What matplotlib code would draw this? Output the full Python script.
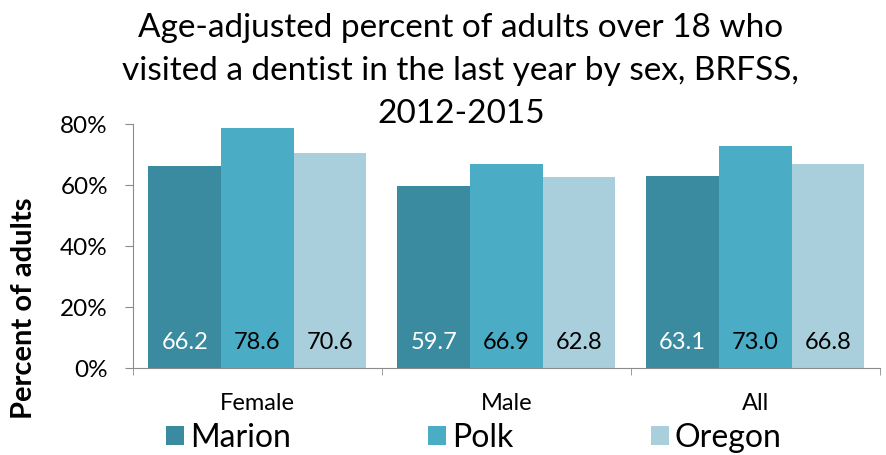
import numpy as np
import matplotlib.pyplot as plt
from matplotlib.ticker import FuncFormatter

plt.rcParams['font.family'] = ['Lato', 'DejaVu Sans']

# Data
groups = ['Female', 'Male', 'All']
series = ['Marion', 'Polk', 'Oregon']
marion = [66.2, 59.7, 63.1]
polk = [78.6, 66.9, 73.0]
oregon = [70.6, 62.8, 66.8]
colors = ['#3a8aa0', '#4bacc6', '#a9cfdc']
label_colors = ['white', 'black', 'black']

fig = plt.figure(figsize=(8.86, 4.55), dpi=100)
ax = fig.add_axes([0.150, 0.191, 0.843, 0.536])

x = np.arange(len(groups))
w = 0.292
for i, (name, vals) in enumerate(zip(series, [marion, polk, oregon])):
    pos = x + (i - 1) * w
    ax.bar(pos, vals, width=w, color=colors[i], label=name)
    for p, v in zip(pos, vals):
        ax.text(p, 8.5, f'{v:.1f}', ha='center', va='center',
                fontsize=17, color=label_colors[i])

ax.set_xlim(-0.5, 2.5)
ax.set_ylim(0, 80)
ax.set_yticks(range(0, 81, 20))
ax.yaxis.set_major_formatter(FuncFormatter(lambda v, _: f'{v:.0f}%'))
ax.set_xticks(x)
ax.set_xticklabels(groups, fontsize=17)
ax.set_xticks([-0.5, 0.5, 1.5, 2.5], minor=True)
ax.tick_params(axis='x', which='major', length=0, pad=18)
ax.tick_params(axis='x', which='minor', length=5, color='#8c8c8c', direction='out')
ax.tick_params(axis='y', labelsize=17.5, length=6, color='#8c8c8c', pad=12)

for s in ['top', 'right']:
    ax.spines[s].set_visible(False)
ax.spines['left'].set_color('#8c8c8c')
ax.spines['bottom'].set_color('#8c8c8c')

ax.set_ylabel('Percent of adults', fontsize=21, fontweight='bold')
ax.yaxis.set_label_coords(-0.128, 0.246)

fig.text(0.52, 0.972, 'Age-adjusted percent of adults over 18 who\n'
         'visited a dentist in the last year by sex, BRFSS,\n2012-2015',
         ha='center', va='top', fontsize=24, linespacing=1.55)

fig.legend(loc='center', bbox_to_anchor=(0.535, 0.038), ncol=3,
           frameon=False, fontsize=23, handlelength=0.55, handleheight=0.55,
           handletextpad=0.2, columnspacing=4.3)

fig.savefig('out.png', dpi=100)
